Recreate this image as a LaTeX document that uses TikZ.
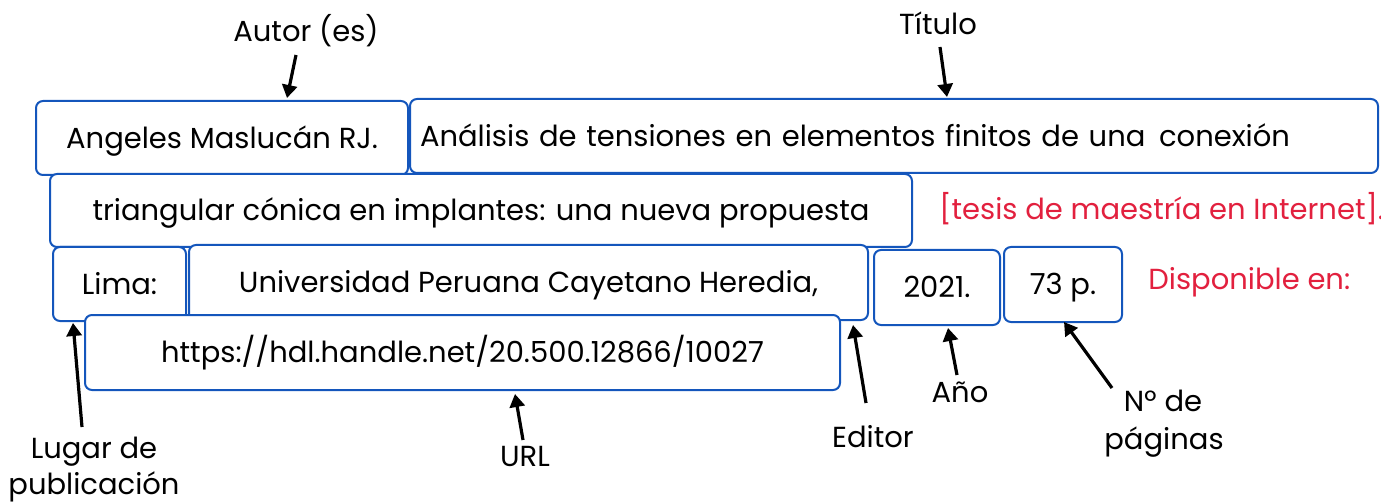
\documentclass[tikz,border=0pt]{standalone}
\usepackage{fontspec}
\setmainfont{Poppins}
\usetikzlibrary{arrows.meta}
\definecolor{boxblue}{RGB}{20,86,188}
\definecolor{citered}{RGB}{226,32,62}
\newcommand\fsz{\fontsize{14.5}{19.5}\selectfont}
\begin{document}
\begin{tikzpicture}[x=0.5pt,y=-0.5pt,
  box/.style={draw=boxblue, line width=1pt, rounded corners=3.5pt, fill=white,
    text height=10.2pt, text depth=0pt, inner sep=0pt, font=\fsz},
  lbl/.style={font=\fsz, inner sep=0pt, anchor=base},
  redtxt/.style={font=\fsz, inner sep=0pt, anchor=base west, text=citered},
  arr/.style={line width=1.6pt, -{Triangle[length=6.5pt,width=7.5pt]}}]
\useasboundingbox (0,0) rectangle (1381,502);
% boxes
\node[box, minimum width=186pt, minimum height=37pt] (aut) at (222,138) {Angeles Maslucán RJ.};
\node[box, minimum width=484pt, minimum height=37pt, text width=474pt, inner xsep=5pt, align=left] (tit1) at (894,136) {Análisis de tensiones en elementos finitos de una\kern2pt\ conexión};
\node[box, minimum width=431pt, minimum height=36.5pt] (tit2) at (481,210.5) {triangular cónica en implantes: una nueva propuesta};
\node[box, minimum width=66.5pt, minimum height=37pt] (lima) at (119.5,284) {Lima:};
\node[box, minimum width=339.5pt, minimum height=37.5pt] (univ) at (528.5,282.5) {Universidad Peruana Cayetano Heredia,};
\node[box, minimum width=377.5pt, minimum height=37.5pt] (url) at (462.5,352.5) {https://hdl.handle.net/20.500.12866/10027};
\node[box, minimum width=63pt, minimum height=37.5pt] (year) at (937,287.5) {2021.};
\node[box, minimum width=59pt, minimum height=37.5pt] (pages) at (1063,284.5) {73 p.};
% red texts
\node[redtxt] (tesis) at (939,220) {[tesis de maestría en Internet].};
\node[redtxt] (disp) at (1148,290) {Disponible en:};
% labels
\node[lbl] (lAut) at (306,42) {Autor (es)};
\node[lbl] (lTit) at (938,35) {Título};
\node[lbl] (lLug1) at (94,458) {Lugar de};
\node[lbl] (lLug2) at (94,494) {publicación};
\node[lbl] (lUrl) at (525,466) {URL};
\node[lbl] (lEd) at (873,447) {Editor};
\node[lbl] (lAno) at (960,402) {Año};
\node[lbl] (lNum1) at (1163,411) {Nº de};
\node[lbl] (lNum2) at (1164,449) {páginas};
% arrow end points
\coordinate (tAut) at (296,55);   \coordinate (hAut) at (287,98);
\coordinate (tTit) at (940,47);   \coordinate (hTit) at (947,97);
\coordinate (tLug) at (82,427);   \coordinate (hLug) at (73,323);
\coordinate (tUrl) at (523,440);  \coordinate (hUrl) at (515,394);
\coordinate (tEd) at (866,403);   \coordinate (hEd) at (853,325);
\coordinate (tAno) at (957,375);  \coordinate (hAno) at (948,328);
\coordinate (tNum) at (1112,388); \coordinate (hNum) at (1064,322);
\draw[arr] (tAut) -- (hAut);
\draw[arr] (tTit) -- (hTit);
\draw[arr] (tLug) -- (hLug);
\draw[arr] (tUrl) -- (hUrl);
\draw[arr] (tEd) -- (hEd);
\draw[arr] (tAno) -- (hAno);
\draw[arr] (tNum) -- (hNum);
\end{tikzpicture}
\end{document}
